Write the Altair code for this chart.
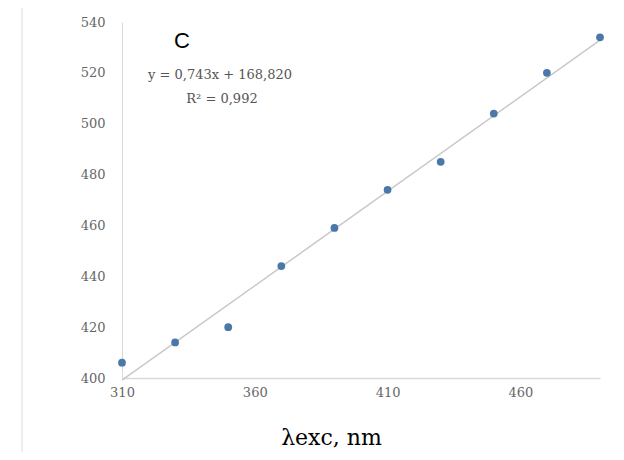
import altair as alt
import pandas as pd

# data
x_exc = [310, 330, 350, 370, 390, 410, 430, 450, 470, 490]
y_em = [406, 414, 420, 444, 459, 474, 485, 504, 520, 534]
x_ticks = [310, 360, 410, 460]
y_ticks = [400, 420, 440, 460, 480, 500, 520, 540]
panel_label = "C"
equation = "y = 0,743x + 168,820"
r2_text = "R² = 0,992"
x_title = "λexc, nm"

df = pd.DataFrame({"x": x_exc, "y": y_em})

xs = alt.Scale(domain=[310, 490], nice=False, zero=False)
ys = alt.Scale(domain=[400, 540], nice=False, zero=False)

base = alt.Chart(df)

trend = base.transform_regression("x", "y", method="linear", extent=[310, 490]).mark_line(
    color="#c8c8c8", strokeWidth=1.5
).encode(
    x=alt.X("x:Q", scale=xs),
    y=alt.Y("y:Q", scale=ys),
)

points = base.mark_circle(size=60, color="#4a78a8", opacity=1).encode(
    x=alt.X(
        "x:Q",
        scale=xs,
        axis=alt.Axis(
            values=x_ticks,
            title=x_title,
            grid=False,
            ticks=False,
            domainColor="#d9d9d9",
            domainWidth=1.5,
            labelFont="DejaVu Serif",
            labelFontSize=13,
            labelColor="#666666",
            labelPadding=8,
            labelFlush=False,
            titleFont="DejaVu Serif",
            titleFontSize=22,
            titleFontWeight="normal",
            titleColor="#000000",
            titleAnchor="start",
            titleAlign="center",
            titleBaseline="middle",
            titleX=209,
            titleY=59,
        ),
    ),
    y=alt.Y(
        "y:Q",
        scale=ys,
        axis=alt.Axis(
            values=y_ticks,
            title=None,
            grid=False,
            ticks=False,
            domainColor="#d9d9d9",
            domainWidth=1,
            labelFont="DejaVu Serif",
            labelFontSize=13,
            labelColor="#666666",
            labelPadding=17,
        ),
    ),
)

label_c = alt.Chart(pd.DataFrame({"t": [panel_label]})).mark_text(
    font="Liberation Sans", fontSize=22, color="#000000", align="center", baseline="middle"
).encode(x=alt.value(60), y=alt.value(19), text="t:N")

eq = alt.Chart(pd.DataFrame({"t": [equation]})).mark_text(
    font="DejaVu Serif", fontSize=13, color="#555555", align="center", baseline="middle"
).encode(x=alt.value(98), y=alt.value(53), text="t:N")

r2 = alt.Chart(pd.DataFrame({"t": [r2_text]})).mark_text(
    font="DejaVu Serif", fontSize=13, color="#555555", align="center", baseline="middle"
).encode(x=alt.value(100), y=alt.value(77), text="t:N")

left_border = alt.Chart(pd.DataFrame({"a": [0]})).mark_rule(color="#dcdcdc", strokeWidth=1).encode(
    x=alt.value(-100), y=alt.value(-22), y2=alt.value(435)
)
bottom_border = alt.Chart(pd.DataFrame({"a": [0]})).mark_rule(color="#dcdcdc", strokeWidth=1).encode(
    x=alt.value(-100), x2=alt.value(500), y=alt.value(435)
)

chart = alt.layer(left_border, bottom_border, trend, points, label_c, eq, r2).properties(
    width=478,
    height=356,
    autosize=alt.AutoSizeParams(type="none"),
    padding={"left": 114, "top": 14, "right": 16, "bottom": 74},
).configure_view(stroke=None)

chart.save("out.html", embed_options={"renderer": "svg", "actions": False})
